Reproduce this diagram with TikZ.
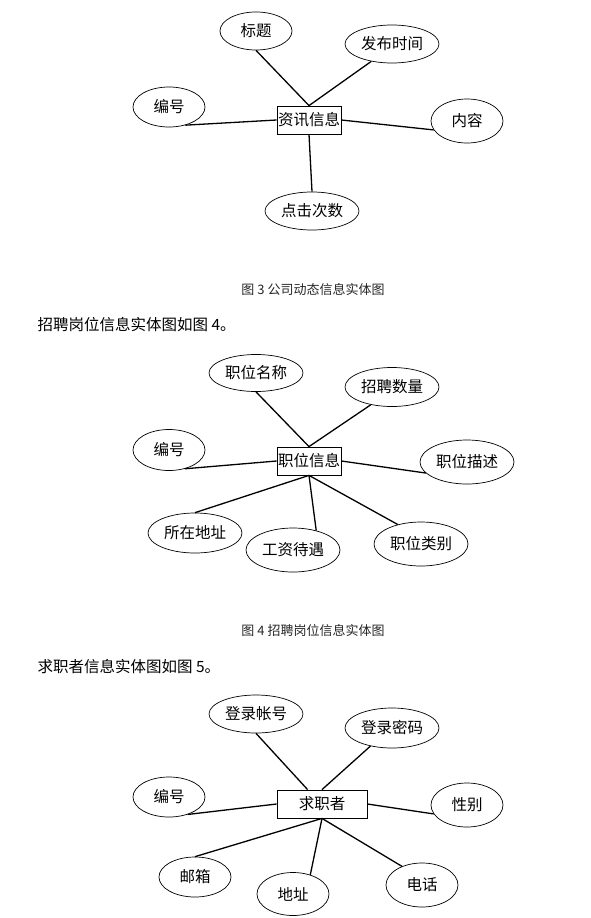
\documentclass[tikz,border=0pt]{standalone}
\usepackage{fontspec}
\setmainfont{Noto Sans CJK SC}
\usepackage{xcolor}
\usepackage{tikz}
\usetikzlibrary{shapes.geometric}

\begin{document}
\begin{tikzpicture}[x=1pt,y=-1pt,
	attr/.style={draw,ellipse,inner sep=0pt,line width=0.7pt,font=\fontsize{15.5}{18}\selectfont},
	ent/.style={draw,rectangle,inner sep=0pt,line width=0.8pt,minimum height=28pt,font=\fontsize{15.5}{18}\selectfont},
	conn/.style={line width=1.3pt},
	figcap/.style={font=\fontsize{13}{15}\selectfont,text=black!85},
	para/.style={anchor=west,font=\fontsize{15.5}{18}\selectfont}]
		\useasboundingbox (0,0) rectangle (590,918);
		
		% 图3
		\node[ent,minimum width=64pt] (xx) at (309,120) {资讯信息};
		\node[attr,minimum width=72pt,minimum height=38pt] (bt) at (256,31) {标题};
		\node[attr,minimum width=94pt,minimum height=38pt] (fbsj) at (392,44) {发布时间};
		\node[attr,minimum width=72pt,minimum height=40pt] (bh1) at (169,107) {编号};
		\node[attr,minimum width=72pt,minimum height=44pt] (nr) at (467,121) {内容};
		\node[attr,minimum width=94pt,minimum height=38pt] (djcs) at (312,211) {点击次数};
		\draw[conn] (xx.north) -- (bt.south);
		\draw[conn] (xx.north) -- (fbsj.-140);
		\draw[conn] (xx.west) -- (bh1.-48);
		\draw[conn] (xx.east) -- (nr.195);
		\draw[conn] (xx.south) -- (djcs.north);
		\node[figcap] (cap3) at (313,290) {图 3 公司动态信息实体图};
		
		% 图4
		\node[para] (txt4) at (34,325) {招聘岗位信息实体图如图 4。};
		\node[ent,minimum width=64pt] (zw) at (309,461) {职位信息};
		\node[attr,minimum width=94pt,minimum height=37pt] (zwmc) at (256,373) {职位名称};
		\node[attr,minimum width=94pt,minimum height=39pt] (zpsl) at (392,387) {招聘数量};
		\node[attr,minimum width=72pt,minimum height=41pt] (bh2) at (169,450) {编号};
		\node[attr,minimum width=94pt,minimum height=44pt] (zwms) at (467,462) {职位描述};
		\node[attr,minimum width=94pt,minimum height=40pt] (szdz) at (195,533) {所在地址};
		\node[attr,minimum width=94pt,minimum height=44pt] (gzdy) at (293,550) {工资待遇};
		\node[attr,minimum width=94pt,minimum height=44pt] (zwlb) at (421,544) {职位类别};
		\draw[conn] (zw.north) -- (zwmc.south);
		\draw[conn] (zw.north) -- (zpsl.-140);
		\draw[conn] (zw.west) -- (bh2.-50);
		\draw[conn] (zw.east) -- (zwms.195);
		\draw[conn] (zw.south) -- (szdz.north);
		\draw[conn] (zw.south) -- (gzdy.40);
		\draw[conn] (zw.south) -- (zwlb.140);
		\node[figcap] (cap4) at (313,631) {图 4 招聘岗位信息实体图};
		
		% 图5
		\node[para] (txt5) at (34,667) {求职者信息实体图如图 5。};
		\node[ent,minimum width=90pt] (qzz) at (322,804) {求职者};
		\node[attr,minimum width=94pt,minimum height=38pt] (dlzh) at (256,714) {登录帐号};
		\node[attr,minimum width=94pt,minimum height=40pt] (dlmm) at (392,728) {登录密码};
		\node[attr,minimum width=72pt,minimum height=40pt] (bh3) at (169,797) {编号};
		\node[attr,minimum width=72pt,minimum height=44pt] (xb) at (467,805) {性别};
		\node[attr,minimum width=72pt,minimum height=40pt] (yx) at (195,877) {邮箱};
		\node[attr,minimum width=72pt,minimum height=43pt] (dz) at (293,894) {地址};
		\node[attr,minimum width=72pt,minimum height=44pt] (dh) at (422,885) {电话};
		\draw[conn] (qzz.135) -- (dlzh.south);
		\draw[conn] (qzz.north) -- (dlmm.-140);
		\draw[conn] (qzz.west) -- (bh3.-43);
		\draw[conn] (qzz.east) -- (xb.195);
		\draw[conn] (qzz.south) -- (yx.north);
		\draw[conn] (qzz.south) -- (dz.48);
		\draw[conn] (qzz.south) -- (dh.137);
		
	\end{tikzpicture}
\end{document}
